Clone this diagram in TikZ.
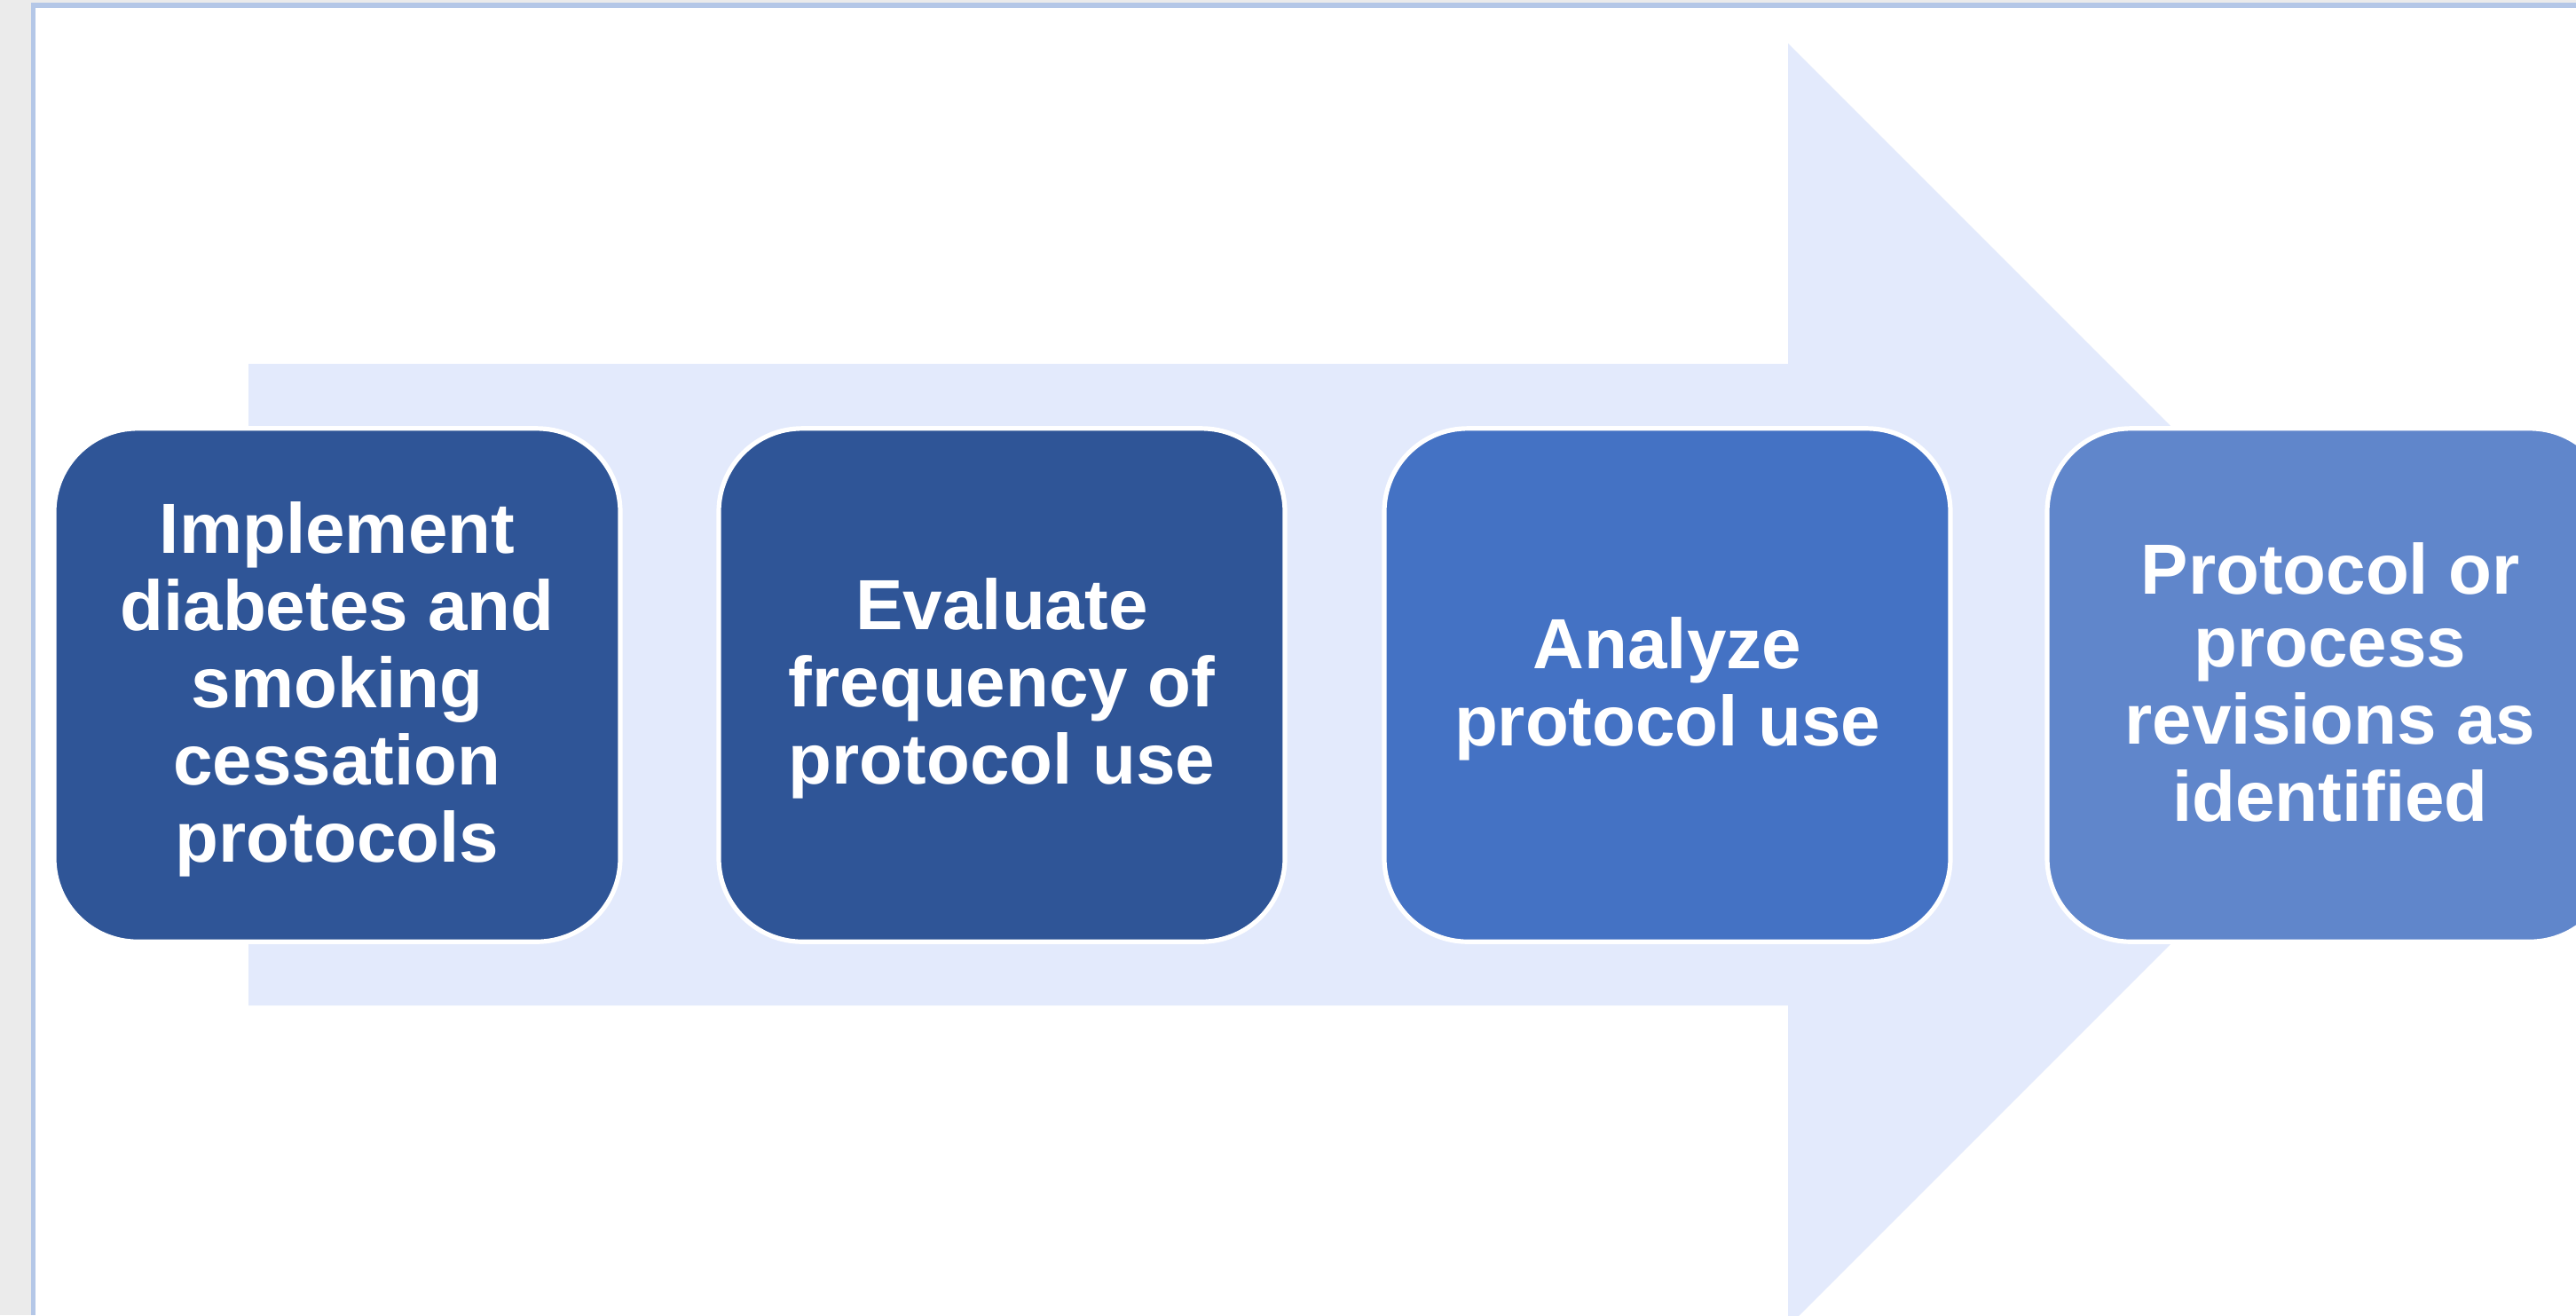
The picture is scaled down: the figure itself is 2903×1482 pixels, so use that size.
\documentclass[tikz,border=0pt]{standalone}
\usepackage{fontspec}
\setmainfont{Liberation Sans}
\definecolor{pagegray}{HTML}{EBEBEB}
\definecolor{framec}{HTML}{B4C7E7}
\definecolor{arrowc}{HTML}{E3EAFC}
\definecolor{darkbox}{HTML}{2F5597}
\definecolor{midbox}{HTML}{4472C4}
\definecolor{lightbox}{HTML}{6086CB}
\begin{document}
\begin{tikzpicture}[x=0.25pt,y=-0.25pt,
  stepbox/.style={draw=white, line width=1.3pt, rounded corners=23.5pt,
    minimum width=159.5pt, minimum height=144.6pt, inner sep=0pt},
  lbl/.style={text=white, font=\bfseries\fontsize{20pt}{20.7pt}\selectfont,
    align=center, inner sep=0pt}]
\useasboundingbox (0,0) rectangle (2903,1482);
\clip (0,0) rectangle (2903,1482);
% page background and frame
\fill[pagegray] (0,0) rectangle (2903,1482);
\fill[white] (40,9) rectangle (2903,1482);
\fill[framec] (35,3) rectangle (40,1482);
\fill[framec] (35,3) rectangle (2903,9);
% big arrow
\fill[arrowc] (280,410) -- (2015,410) -- (2015,49) -- (2738,772)
  -- (2015,1495) -- (2015,1133) -- (280,1133) -- cycle;
% boxes
\node[stepbox, fill=darkbox]  (b1) at (380,772)  {};
\node[stepbox, fill=darkbox]  (b2) at (1129,772) {};
\node[stepbox, fill=midbox]   (b3) at (1879,772) {};
\node[stepbox, fill=lightbox] (b4) at (2626,772) {};
% labels
\node[lbl] (t1) at ([yshift=-2.2pt]b1.center)
  {\strut Implement\\\strut diabetes and\\\strut smoking\\\strut cessation\\\strut protocols};
\node[lbl] (t2) at ([yshift=-2.0pt]b2.center)
  {\strut Evaluate\\\strut frequency of\\\strut protocol use};
\node[lbl] (t3) at ([yshift=-2.2pt]b3.center)
  {\strut Analyze\\\strut protocol use};
\node[lbl] (t4) at ([yshift=-2.2pt]b4.center)
  {\strut Protocol or\\\strut process\\\strut revisions as\\\strut identified};
\end{tikzpicture}
\end{document}
